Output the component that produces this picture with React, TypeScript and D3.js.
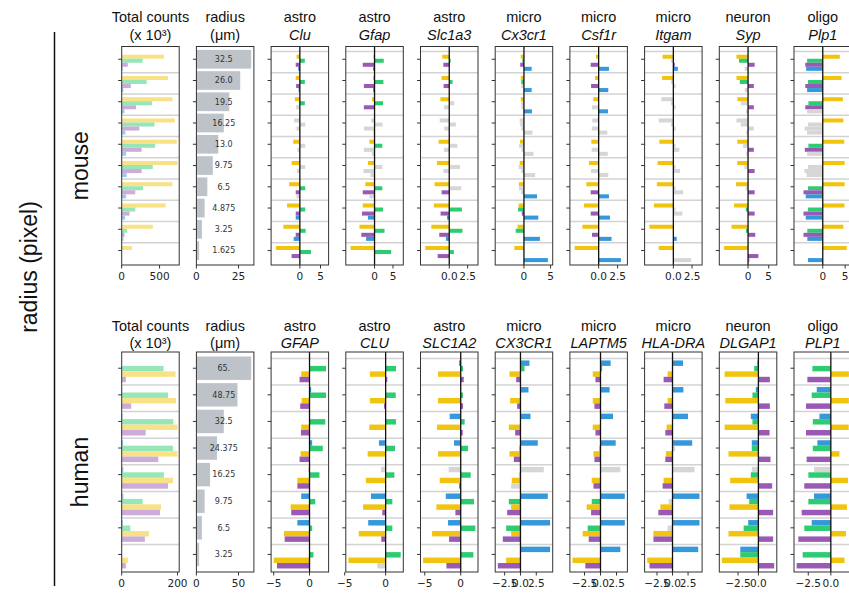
import React from "react";
import * as d3 from "d3";

const WIDTH = 849;
const HEIGHT = 593;

const PALETTE: Record<string, string> = {
  yellow: "#f1c40f",
  green: "#2ecc71",
  purple: "#9b59b6",
  blue: "#3498db",
};
const NS_GREY = "#d6d6d6";
const RADIUS_GREY = "#bdc3c8";
const TITLE_FONT = "'Liberation Sans', Arial, Helvetica, sans-serif";
const TICK_FONT = "'DejaVu Sans', sans-serif";

// bar order inside each row, top to bottom
const mouseSeries = ["yellow", "green", "purple", "blue"];
const humanSeries = ["blue", "green", "yellow", "purple"];

// ---------- mouse ----------
const mouseRadius = [32.5, 26.0, 19.5, 16.25, 13.0, 9.75, 6.5, 4.875, 3.25, 1.625];
const mouseRadiusLabels = ["32.5", "26.0", "19.5", "16.25", "13.0", "9.75", "6.5", "4.875", "3.25", "1.625"];

const mouseCounts = [
  [558, 277, 80, 13],
  [612, 330, 120, 22],
  [670, 402, 188, 36],
  [700, 433, 232, 49],
  [728, 442, 263, 58],
  [737, 410, 263, 67],
  [670, 281, 179, 58],
  [580, 179, 103, 45],
  [411, 71, 36, 22],
  [134, 3, 3, 1],
];

const mouseClu = [
  [-0.8, 1.2, -1.0, -0.4], [-1.0, 1.2, -0.9, -0.3], [-1.2, 1.2, -0.9, 0], [-1.4, 1.3, -0.8, 0],
  [-1.6, 1.3, -0.6, 0], [-2.0, 1.3, -0.7, 0], [-2.6, 1.3, -1.0, -0.8], [-3.1, 1.3, -1.0, -1.0],
  [-4.0, 1.4, -1.0, -1.5], [-5.8, 2.7, -2.0, 0],
];
const mouseCluSig = ["1111", "1111", "1100", "0000", "1000", "1000", "1110", "1111", "1111", "1111"];

const mouseGfap = [
  [-0.3, 2.5, -3.2, -0.4], [-0.4, 2.4, -2.9, -0.4], [-0.7, 2.3, -2.9, 0], [-0.9, 2.2, -2.9, -0.3],
  [-1.4, 2.1, -2.9, -0.7], [-1.8, 2.1, -3.0, -1.1], [-2.5, 2.1, -3.2, -1.4], [-3.2, 2.3, -3.4, -1.8],
  [-4.1, 2.7, -3.6, -2.3], [-6.5, 4.5, 0, 0],
];
const mouseGfapSig = ["1111", "1111", "1111", "0000", "1100", "1000", "1110", "1111", "1111", "1111"];

const mouseSlc1a3 = [
  [-0.95, 0.2, -0.8, 0], [-1.05, 0.45, -0.77, 0], [-1.2, 0.68, -0.72, 0], [-1.3, 0.9, -0.68, 0],
  [-1.45, 1.1, -0.72, 0], [-1.67, 1.45, -0.8, 0], [-2.0, 1.63, -1.04, 0], [-2.1, 1.72, -1.18, -0.3],
  [-2.44, 1.8, -1.36, -0.45], [-3.26, 0.63, -1.58, 0],
];
const mouseSlc1a3Sig = ["1111", "1111", "1000", "0000", "1000", "1000", "1010", "1111", "1111", "1111"];

const mouseCx3cr1 = [
  [-0.6, -0.3, -0.7, 1.45], [-0.6, -0.5, -0.5, 1.45], [-0.6, -0.5, -0.5, 1.5], [-0.8, -0.7, -0.5, 1.6],
  [-0.75, -0.9, -0.45, 1.8], [-0.8, -1.0, -0.5, 2.1], [-0.95, -0.95, -0.55, 2.45], [-1.0, -1.1, -0.4, 2.7],
  [-1.2, -1.55, 0, 3.0], [-1.8, 0, 0, 4.5],
];
const mouseCx3cr1Sig = ["1111", "1101", "1001", "0000", "1000", "1000", "1001", "1111", "1101", "1001"];

const mouseCsf1r = [
  [-0.35, 0, -1.05, 1.36], [-0.48, 0, -1.0, 1.27], [-0.7, 0, -0.88, 1.23], [-0.83, 0, -0.9, 1.14],
  [-0.96, 0, -0.92, 1.2], [-1.27, 0, -1.0, 1.27], [-1.62, 0, -1.05, 1.36], [-1.93, 0, -1.05, 1.5],
  [-2.15, 0, -0.88, 1.7], [-3.16, 0, 0, 2.94],
];
const mouseCsf1rSig = ["1111", "1111", "1101", "0000", "1000", "1000", "1111", "1111", "1111", "1111"];

const mouseItgam = [
  [-1.43, -0.3, 0.2, 0.6], [-1.5, -0.3, 0.3, 0], [-1.6, -0.3, 0.3, 0], [-1.96, -0.3, 0.3, 0],
  [-1.87, 0.3, 0.8, 0], [-2.1, 0.3, 0.9, 0], [-2.2, 0.3, 1.3, 0], [-2.6, 0.3, 1.2, 0],
  [-3.2, 0, 0, 0.45], [-1.96, 0, 0, 2.37],
];
const mouseItgamSig = ["1011", "1000", "0000", "0000", "1000", "1000", "1000", "1000", "1111", "1110"];

const mouseSyp = [
  [-2.8, -2.2, 1.6, -0.8], [-2.8, -2.0, 1.4, -0.8], [-2.6, -1.75, 1.4, -0.5], [-2.8, -1.75, 1.4, -0.4],
  [-2.6, -1.2, 1.4, -0.4], [-2.6, -0.9, 1.6, 0], [-2.9, -0.55, 1.6, 0], [-3.4, -0.55, 1.6, 0],
  [-4.0, -0.5, 1.75, 0], [-5.8, 0, 2.5, 0.5],
];
const mouseSypSig = ["1110", "1110", "1010", "0000", "1010", "1010", "1010", "1110", "1110", "1110"];

const mousePlp1 = [
  [3.8, -3.5, -3.9, -3.7], [4.2, -3.3, -3.9, -3.5], [4.5, -3.2, -3.9, -3.5], [4.6, -3.3, -4.0, -3.5],
  [4.8, -3.2, -4.0, -3.5], [4.9, -3.3, -4.1, -3.6], [4.9, -3.3, -4.3, -3.8], [4.85, -3.3, -4.3, -3.8],
  [4.6, -3.45, -4.3, -3.45], [5.35, 0, 0, -3.3],
];
const mousePlp1Sig = ["1111", "1111", "1110", "1000", "1110", "1000", "1111", "1111", "1111", "1111"];

// ---------- human ----------
const humanRadius = [65, 48.75, 32.5, 24.375, 16.25, 9.75, 6.5, 3.25];
const humanRadiusLabels = ["65.", "48.75", "32.5", "24.375", "16.25", "9.75", "6.5", "3.25"];

const humanCounts = [
  [0, 150, 193, 15],
  [2, 166, 195, 34],
  [3, 185, 200, 86],
  [5, 184, 200, 131],
  [6, 151, 184, 166],
  [6, 75, 141, 137],
  [4, 31, 98, 83],
  [1, 1, 22, 15],
];

const humanGFAP = [
  [0, 2.3, -1.16, -1.39], [0.23, 2.3, -1.1, -1.3], [0, 2.2, -1.16, -1.2], [0.37, 1.85, -1.25, -1.39],
  [-0.2, 1.39, -1.7, -1.7], [-1.16, 0.8, -2.64, -2.55], [-1.7, 0.37, -3.56, -3.47], [0, 0.55, -5.0, -4.54],
];
const humanGFAPSig = ["1111", "1111", "1111", "1111", "0111", "1111", "1111", "1111"];

const humanCLU = [
  [0, 1.27, -1.93, 0.2], [0, 1.23, -1.93, -0.2], [0, 1.27, -2.0, 0], [-0.82, 1.15, -2.2, 0],
  [-0.57, 1.07, -2.42, 0], [-1.8, 0.82, -2.75, -0.41], [-2.13, 0.82, -3.28, -0.53], [0, 1.84, -4.55, -1.02],
];
const humanCLUSig = ["1111", "1111", "1111", "1111", "0111", "1111", "1111", "1110"];

const humanSLC1A2 = [
  [-0.23, 0.32, -3.15, 0.42], [0, 0.32, -3.15, 0.32], [-1.53, 0.55, -3.29, 0.28], [-0.93, 1.02, -3.15, 0],
  [-1.67, 1.39, -2.92, -0.23], [-2.08, 1.85, -3.38, -0.74], [-1.76, 2.04, -3.98, -1.62], [0, 1.76, -5.23, -1.99],
];
const humanSLC1A2Sig = ["1111", "1111", "1111", "1111", "0111", "1111", "1111", "1111"];

const humanCX3CR1 = [
  [1.42, 0.63, -1.74, -0.68], [1.26, 0, -1.63, -0.53], [1.58, 0, -1.84, -0.84], [2.74, -0.16, -1.74, -1.05],
  [3.68, -0.26, -1.37, -1.47], [4.32, -1.84, -1.47, -2.1], [4.68, -2.26, -1.47, -2.79], [4.68, 0, -2.26, -3.58],
];
const humanCX3CR1Sig = ["1111", "1111", "1111", "1111", "0010", "1111", "1111", "1111"];

const humanLAPTM5 = [
  [1.58, 0.26, -1.21, -0.79], [1.42, 0.1, -1.21, -0.95], [1.95, 0, -1.21, -0.79], [2.37, -0.16, -1.1, -0.95],
  [3.1, 0, -1.37, -1.1], [3.79, -1.37, -2.16, -1.47], [3.79, -2.0, -2.79, -1.84], [3.1, 0, -4.37, -2.37],
];
const humanLAPTM5Sig = ["1111", "1111", "1111", "1111", "0011", "1111", "1111", "1111"];

const humanHLADRA = [
  [1.69, 0, -0.79, -1.43], [1.75, 0, -0.79, -1.32], [2.49, 0, -0.95, -1.16], [3.17, 0.42, -1.06, -1.16],
  [3.54, 0, -1.43, -1.59], [4.34, -0.63, -1.96, -2.28], [4.34, -0.79, -3.07, -3.07], [4.13, 0, -4.07, -3.7],
];
const humanHLADRASig = ["1111", "1111", "1111", "1011", "0011", "1011", "1011", "1111"];

const humanDLGAP1 = [
  [-0.12, -0.52, -4.15, 1.41], [-0.32, -0.73, -4.07, 1.41], [-0.93, -0.73, -4.15, 1.37], [-0.81, -0.81, -3.67, 1.49],
  [-0.81, -0.93, -3.47, 1.69], [-1.45, -1.13, -3.55, 1.81], [-1.25, -1.81, -3.67, 1.81], [-2.22, -2.22, -4.48, 1.94],
];
const humanDLGAP1Sig = ["1111", "1111", "1111", "1111", "0111", "1111", "1111", "1111"];

const humanPLP1 = [
  [0, -2.04, 2.0, -2.6], [-1.56, -2.12, 2.0, -2.75], [-1.26, -2.0, 1.98, -2.75], [-1.49, -2.0, 0.95, -2.68],
  [-1.86, -2.49, 1.9, -2.94], [-1.86, -2.49, 1.78, -3.23], [-2.12, -2.94, 1.67, -3.6], [0, -3.12, 1.52, -3.79],
];
const humanPLP1Sig = ["1111", "1111", "1111", "1111", "0111", "1111", "1111", "1111"];

// ---------- panel lists ----------
type GeneSpec = { cell: string; gene: string; rows: number[][]; sig: string[]; ticks: number[] };

const mouseGenes: GeneSpec[] = [
  { cell: "astro", gene: "Clu", rows: mouseClu, sig: mouseCluSig, ticks: [0, 5] },
  { cell: "astro", gene: "Gfap", rows: mouseGfap, sig: mouseGfapSig, ticks: [0, 5] },
  { cell: "astro", gene: "Slc1a3", rows: mouseSlc1a3, sig: mouseSlc1a3Sig, ticks: [0, 2.5] },
  { cell: "micro", gene: "Cx3cr1", rows: mouseCx3cr1, sig: mouseCx3cr1Sig, ticks: [0, 5] },
  { cell: "micro", gene: "Csf1r", rows: mouseCsf1r, sig: mouseCsf1rSig, ticks: [0, 2.5] },
  { cell: "micro", gene: "Itgam", rows: mouseItgam, sig: mouseItgamSig, ticks: [0, 2.5] },
  { cell: "neuron", gene: "Syp", rows: mouseSyp, sig: mouseSypSig, ticks: [0, 5] },
  { cell: "oligo", gene: "Plp1", rows: mousePlp1, sig: mousePlp1Sig, ticks: [0, 5] },
];

const humanGenes: GeneSpec[] = [
  { cell: "astro", gene: "GFAP", rows: humanGFAP, sig: humanGFAPSig, ticks: [-5, 0] },
  { cell: "astro", gene: "CLU", rows: humanCLU, sig: humanCLUSig, ticks: [-5, 0] },
  { cell: "astro", gene: "SLC1A2", rows: humanSLC1A2, sig: humanSLC1A2Sig, ticks: [-5, 0] },
  { cell: "micro", gene: "CX3CR1", rows: humanCX3CR1, sig: humanCX3CR1Sig, ticks: [-2.5, 0, 2.5] },
  { cell: "micro", gene: "LAPTM5", rows: humanLAPTM5, sig: humanLAPTM5Sig, ticks: [-2.5, 0, 2.5] },
  { cell: "micro", gene: "HLA-DRA", rows: humanHLADRA, sig: humanHLADRASig, ticks: [-2.5, 0, 2.5] },
  { cell: "neuron", gene: "DLGAP1", rows: humanDLGAP1, sig: humanDLGAP1Sig, ticks: [-2.5, 0] },
  { cell: "oligo", gene: "PLP1", rows: humanPLP1, sig: humanPLP1Sig, ticks: [-2.5, 0] },
];

// ---------- layout ----------
const PANEL_LEFT = 121.7;
const PANEL_STEP = 74.7;
const PANEL_W = 57.5;

type Block = {
  name: string;
  top: number;
  bottom: number;
  rowDomain: [number, number];
  barStart: number;
  barStep: number;
  title1: number;
  title2: number;
  symmetric: boolean;
  series: string[];
  counts: number[][];
  countTicks: number[];
  radius: number[];
  radiusLabels: string[];
  radiusTicks: number[];
  genes: GeneSpec[];
};

const blocks: Block[] = [
  {
    name: "mouse", top: 46.5, bottom: 265, rowDomain: [-0.6, 9.68], barStart: -0.12, barStep: 0.19,
    title1: 21.5, title2: 40, symmetric: true, series: mouseSeries,
    counts: mouseCounts, countTicks: [0, 500], radius: mouseRadius, radiusLabels: mouseRadiusLabels,
    radiusTicks: [0, 25], genes: mouseGenes,
  },
  {
    name: "human", top: 352, bottom: 572, rowDomain: [-0.61, 7.66], barStart: -0.19, barStep: 0.205,
    title1: 330.5, title2: 347.5, symmetric: false, series: humanSeries,
    counts: humanCounts, countTicks: [0, 200], radius: humanRadius, radiusLabels: humanRadiusLabels,
    radiusTicks: [0, 50], genes: humanGenes,
  },
];

const lighten = (c: string) => d3.interpolateRgb(c, "#ffffff")(0.5);

function tickText(ticks: number[]) {
  const frac = ticks.some((t) => !Number.isInteger(t));
  return d3.format(frac ? ".1f" : "d");
}

function Axes({ x0, block, x, ticks, nRows }: { x0: number; block: Block; x: d3.ScaleLinear<number, number>; ticks: number[]; nRows: number }) {
  const y = d3.scaleLinear().domain(block.rowDomain).range([block.top, block.bottom]);
  const fmt = tickText(ticks);
  return (
    <g>
      {d3.range(nRows).map((i) => (
        <line key={"yt" + i} x1={x0 - 3.5} x2={x0} y1={y(i)} y2={y(i)} stroke="#333" strokeWidth={1} />
      ))}
      {ticks.map((t) => (
        <g key={"xt" + t}>
          <line x1={x(t)} x2={x(t)} y1={block.bottom} y2={block.bottom + 3.5} stroke="#333" strokeWidth={1} />
          <text x={x(t)} y={block.bottom + 14.8} textAnchor="middle" fontFamily={TICK_FONT} fontSize={10.5} fill="#222">
            {fmt(t)}
          </text>
        </g>
      ))}
      <rect x={x0} y={block.top} width={PANEL_W} height={block.bottom - block.top} fill="none" stroke="#333" strokeWidth={1} />
    </g>
  );
}

function Titles({ cx, block, line1, line2, italic }: { cx: number; block: Block; line1: string; line2: string; italic: boolean }) {
  return (
    <g fontFamily={TITLE_FONT} fontSize={14.5} fill="#111" textAnchor="middle">
      <text x={cx} y={block.title1}>{line1}</text>
      <text x={cx} y={block.title2} fontStyle={italic ? "italic" : "normal"}>{line2}</text>
    </g>
  );
}

function BarRows({ block, x, rows, sig, light, separatorsFromFirst }: {
  block: Block; x: d3.ScaleLinear<number, number>; rows: number[][]; sig?: string[]; light: boolean; separatorsFromFirst: boolean;
}) {
  const y = d3.scaleLinear().domain(block.rowDomain).range([block.top, block.bottom]);
  const [xa, xb] = x.range();
  const h = y(block.barStep) - y(0);
  return (
    <g>
      {rows.map((_, i) =>
        i === 0 && !separatorsFromFirst ? null : (
          <line key={"sep" + i} x1={xa} x2={xb} y1={y(i - 0.37)} y2={y(i - 0.37)} stroke="#d3d3d3" strokeWidth={1.5} />
        )
      )}
      {rows.map((row, i) =>
        row.map((v, k) => {
          if (v === 0) return null;
          const base = PALETTE[block.series[k]];
          const significant = !sig || sig[i][k] === "1";
          const fill = !significant ? NS_GREY : light ? lighten(base) : base;
          const yc = i + block.barStart + k * block.barStep;
          return (
            <rect
              key={i + "-" + k}
              x={Math.min(x(0), x(v))}
              y={y(yc) - h / 2}
              width={Math.abs(x(v) - x(0))}
              height={h}
              fill={fill}
            />
          );
        })
      )}
    </g>
  );
}

function CountsPanel({ block }: { block: Block }) {
  const x0 = PANEL_LEFT;
  const max = d3.max(block.counts.flat()) as number;
  const x = d3.scaleLinear().domain([0, max * 1.03]).range([x0, x0 + PANEL_W]);
  return (
    <g>
      <BarRows block={block} x={x} rows={block.counts} light={true} separatorsFromFirst={false} />
      <Axes x0={x0} block={block} x={x} ticks={block.countTicks} nRows={block.counts.length} />
      <Titles cx={x0 + PANEL_W / 2} block={block} line1="Total counts" line2="(x 10³)" italic={false} />
    </g>
  );
}

function RadiusPanel({ block }: { block: Block }) {
  const x0 = PANEL_LEFT + PANEL_STEP;
  const max = d3.max(block.radius) as number;
  const x = d3.scaleLinear().domain([0, max * 1.05]).range([x0, x0 + PANEL_W]);
  const y = d3.scaleLinear().domain(block.rowDomain).range([block.top, block.bottom]);
  const h = (y(0.88) - y(0));
  return (
    <g>
      {block.radius.map((r, i) => (
        <g key={i}>
          <rect x={x(0)} y={y(i) - h / 2} width={x(r) - x(0)} height={h} fill={RADIUS_GREY} />
          <text x={x(max / 2)} y={y(i)} dy="0.35em" textAnchor="middle" fontFamily={TICK_FONT} fontSize={8} fill="#333">
            {block.radiusLabels[i]}
          </text>
        </g>
      ))}
      <Axes x0={x0} block={block} x={x} ticks={block.radiusTicks} nRows={block.radius.length} />
      <Titles cx={x0 + PANEL_W / 2} block={block} line1="radius" line2="(μm)" italic={false} />
    </g>
  );
}

function GenePanel({ block, spec, index }: { block: Block; spec: GeneSpec; index: number }) {
  const x0 = PANEL_LEFT + PANEL_STEP * (index + 2);
  const flat = spec.rows.flat();
  let domain: [number, number];
  if (block.symmetric) {
    const m = (d3.max(flat, (v) => Math.abs(v)) as number) * 1.2;
    domain = [-m, m];
  } else {
    const lo = Math.min(0, d3.min(flat) as number);
    const hi = Math.max(0, d3.max(flat) as number);
    const pad = (hi - lo) * 0.05;
    domain = [lo - pad, hi + pad];
  }
  const x = d3.scaleLinear().domain(domain).range([x0, x0 + PANEL_W]);
  return (
    <g>
      <BarRows block={block} x={x} rows={spec.rows} sig={spec.sig} light={false} separatorsFromFirst={true} />
      <line x1={x(0)} x2={x(0)} y1={block.top} y2={block.bottom} stroke="#111" strokeWidth={1.3} />
      <Axes x0={x0} block={block} x={x} ticks={spec.ticks} nRows={spec.rows.length} />
      <Titles cx={x0 + PANEL_W / 2} block={block} line1={spec.cell} line2={spec.gene} italic={true} />
    </g>
  );
}

export default function App() {
  return (
    <svg
      width={WIDTH}
      height={HEIGHT}
      viewBox={`0 0 ${WIDTH} ${HEIGHT}`}
      style={{ position: "absolute", left: 0, top: 0, background: "#ffffff" }}
    >
      <rect x={0} y={0} width={WIDTH} height={HEIGHT} fill="#ffffff" />
      <line x1={54.5} x2={54.5} y1={32} y2={586} stroke="#111" strokeWidth={1.5} />
      <text
        transform="translate(37,267) rotate(-90)"
        textAnchor="middle"
        fontFamily={TITLE_FONT}
        fontSize={23}
        fill="#111"
      >
        radius (pixel)
      </text>
      {blocks.map((b) => {
        const cy = (b.top + b.bottom) / 2 + 10;
        return (
          <text
            key={"lbl" + b.name}
            transform={`translate(88,${cy}) rotate(-90)`}
            textAnchor="middle"
            fontFamily={TITLE_FONT}
            fontSize={23}
            fill="#111"
          >
            {b.name}
          </text>
        );
      })}
      {blocks.map((b) => (
        <g key={b.name}>
          <CountsPanel block={b} />
          <RadiusPanel block={b} />
          {b.genes.map((g, i) => (
            <GenePanel key={g.gene} block={b} spec={g} index={i} />
          ))}
        </g>
      ))}
    </svg>
  );
}
